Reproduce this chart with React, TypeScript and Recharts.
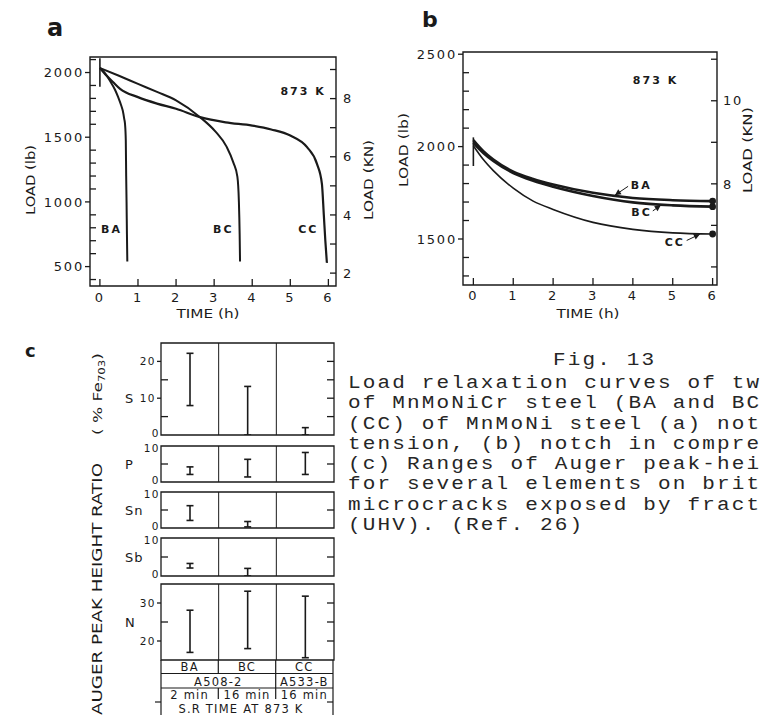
import React from 'react';
import {
  LineChart, Line, ComposedChart, Bar, XAxis, YAxis,
  ReferenceArea, ReferenceLine, ReferenceDot,
} from 'recharts';

const INK = '#1a1a1a';
const SANS = '"DejaVu Sans", sans-serif';
const LB_TO_KN = 0.0044482;

const hours = [0, 1, 2, 3, 4, 5, 6];

// (a) notch in tension – load (lb) vs time (h)
const tensionBA = [
  { t: 0, load: 2035 }, { t: 0.13, load: 1995 }, { t: 0.26, load: 1938 }, { t: 0.4, load: 1865 },
  { t: 0.48, load: 1809 }, { t: 0.56, load: 1745 }, { t: 0.6, load: 1706 }, { t: 0.64, load: 1640 },
  { t: 0.66, load: 1600 }, { t: 0.68, load: 1474 }, { t: 0.69, load: 1200 }, { t: 0.7, load: 1000 },
  { t: 0.71, load: 750 }, { t: 0.72, load: 540 },
];
const tensionBC = [
  { t: 0, load: 2035 }, { t: 0.5, load: 1975 }, { t: 1, load: 1912 }, { t: 1.5, load: 1850 },
  { t: 2, load: 1785 }, { t: 2.63, load: 1655 }, { t: 3.03, load: 1545 }, { t: 3.33, load: 1425 },
  { t: 3.51, load: 1300 }, { t: 3.61, load: 1195 }, { t: 3.65, load: 1000 }, { t: 3.67, load: 750 },
  { t: 3.68, load: 540 },
];
const tensionCC = [
  { t: 0, load: 2035 }, { t: 0.18, load: 1975 }, { t: 0.35, load: 1925 }, { t: 0.53, load: 1874 },
  { t: 1, load: 1810 }, { t: 1.5, load: 1760 }, { t: 2, load: 1720 }, { t: 2.63, load: 1655 },
  { t: 3.3, load: 1615 }, { t: 4, load: 1590 }, { t: 4.5, load: 1560 }, { t: 5, load: 1513 },
  { t: 5.44, load: 1423 }, { t: 5.7, load: 1294 }, { t: 5.83, load: 1140 }, { t: 5.88, load: 900 },
  { t: 5.92, load: 700 }, { t: 5.96, load: 530 },
];
const tensionLoading = [{ t: 0, load: 2110 }, { t: 0, load: 1890 }];
const tensionLbTicks = [400, 500, 600, 700, 800, 900, 1000, 1100, 1200, 1300, 1400, 1500, 1600, 1700, 1800, 1900, 2000, 2100];
const tensionLbLabels = [500, 1000, 1500, 2000];
const tensionKnTicks = [2, 3, 4, 5, 6, 7, 8, 9];
const tensionKnLabels = [2, 4, 6, 8];

// (b) notch in compression
const compBA = [
  { t: 0, load: 2035 }, { t: 0.25, load: 1975 }, { t: 0.5, load: 1930 }, { t: 1, load: 1865 },
  { t: 1.5, load: 1825 }, { t: 2, load: 1795 }, { t: 3, load: 1750 }, { t: 4, load: 1722 },
  { t: 5, load: 1710 }, { t: 6, load: 1705 },
];
const compBC = [
  { t: 0, load: 2020 }, { t: 0.25, load: 1965 }, { t: 0.5, load: 1922 }, { t: 1, load: 1857 },
  { t: 1.5, load: 1815 }, { t: 2, load: 1783 }, { t: 3, load: 1733 }, { t: 4, load: 1698 },
  { t: 5, load: 1682 }, { t: 6, load: 1675 },
];
const compCC = [
  { t: 0, load: 2005 }, { t: 0.25, load: 1930 }, { t: 0.5, load: 1870 }, { t: 1, load: 1775 },
  { t: 1.5, load: 1705 }, { t: 2, load: 1660 }, { t: 3, load: 1590 }, { t: 4, load: 1552 },
  { t: 5, load: 1533 }, { t: 6, load: 1527 },
];
const compLoading = [{ t: 0, load: 2050 }, { t: 0, load: 1895 }];
const compLbTicks = [1300, 1400, 1500, 1600, 1700, 1800, 1900, 2000, 2100, 2200, 2300, 2400, 2500];
const compLbLabels = [1500, 2000, 2500];
const compKnTicks = [6, 7, 8, 9, 10, 11];
const compKnLabels = [8, 10];

// (c) Auger peak-height ratio ranges (% Fe703)
const specimens = ['BA', 'BC', 'CC'];
const steels = ['A508-2', 'A533-B'];
const srTimes = ['2 min', '16 min', '16 min'];
const sRanges = [[8, 22.2], [0, 13.2], [0, 2]];
const pRanges = [[2.1, 4.2], [1.4, 6.3], [2.1, 8.2]];
const snRanges = [[2.1, 6.2], [0.3, 1.8], null];
const sbRanges = [[2.1, 3.3], [0, 2], null];
const nRanges = [[17, 28.1], [18, 33.1], [15.6, 31.8]];

const captionTitle = 'Fig. 13';
const captionLines = [
  'Load relaxation curves of tw',
  'of MnMoNiCr steel (BA and BC',
  '(CC) of MnMoNi steel (a) not',
  'tension, (b) notch in compre',
  '(c) Ranges of Auger peak-hei',
  'for several elements on brit',
  'microcracks exposed by fract',
  '(UHV). (Ref. 26)',
];

// axis windows
const TENSION_T = [-0.26, 6.2];
const TENSION_LB = [350, 2120];
const COMP_T = [-0.26, 6.11];
const COMP_LB = [1251, 2512];

const tickFont: React.CSSProperties = { fontFamily: SANS, fontSize: 13, letterSpacing: 1.8, fill: INK };
const smallFont: React.CSSProperties = { fontFamily: SANS, fontSize: 10.5, letterSpacing: 1.5, fill: INK };
const noteFont: React.CSSProperties = { fontFamily: SANS, fontSize: 11, fontWeight: 700, letterSpacing: 2, fill: INK };

const leftTick = (
  labelled: number[], outward: number[], inward: number[], len = 6, font = tickFont, gap = 2, inLen = 6,
  edges: number[] = [],
) => (p: any) => {
  const { x, y } = p;
  const v = p.payload.value;
  const out = outward.includes(v);
  // keep the stacked "0" / "10" labels of neighbouring strips apart
  const nudge = edges.length ? (v === edges[0] ? -2 : v === edges[1] ? 2 : 0) : 0;
  return (
    <g>
      {out && <line x1={x - len} x2={x} y1={y} y2={y} stroke={INK} strokeWidth={1.3} />}
      {inward.includes(v) && <line x1={x} x2={x + inLen} y1={y} y2={y} stroke={INK} strokeWidth={1.3} />}
      {labelled.includes(v) && (
        <text x={x - (out ? len : 0) - gap} y={y + nudge} dy="0.36em" textAnchor="end" style={font}>{v}</text>
      )}
    </g>
  );
};

const rightTick = (labelled: number[], len = 6, gap = 6) => (p: any) => {
  const { x, y } = p;
  const v = p.payload.value;
  return (
    <g>
      <line x1={x - len} x2={x} y1={y} y2={y} stroke={INK} strokeWidth={1.3} />
      {labelled.includes(v) && <text x={x + gap} y={y} dy="0.36em" style={tickFont}>{v}</text>}
    </g>
  );
};

const bottomTick = (dy: number) => (p: any) => (
  <g>
    <line x1={p.x} x2={p.x} y1={p.y} y2={p.y - 7} stroke={INK} strokeWidth={1.3} />
    <text x={p.x} y={p.y + dy} textAnchor="middle" style={tickFont}>{p.payload.value}</text>
  </g>
);

const topTick = (p: any) => (
  <line x1={p.x} x2={p.x} y1={p.y} y2={p.y + 7} stroke={INK} strokeWidth={1.3} />
);

const note = (text: string) => (p: any) => <text x={p.cx} y={p.cy} style={noteFont}>{text}</text>;

const arrow = (p: any) => {
  const { x1, y1, x2, y2 } = p;
  const a = Math.atan2(y2 - y1, x2 - x1);
  const bx = x2 - 6 * Math.cos(a);
  const by = y2 - 6 * Math.sin(a);
  const pts = `${x2},${y2} ${bx - 3 * Math.sin(a)},${by + 3 * Math.cos(a)} ${bx + 3 * Math.sin(a)},${by - 3 * Math.cos(a)}`;
  return (
    <g>
      <line x1={x1} y1={y1} x2={x2} y2={y2} stroke={INK} strokeWidth={1} />
      <polygon points={pts} fill={INK} />
    </g>
  );
};

const endDot = (p: any) =>
  p.payload && p.payload.t === 6
    ? <circle key={`e${p.index}`} cx={p.cx} cy={p.cy} r={3.4} fill={INK} />
    : <g key={`e${p.index}`} />;

const axisBase = { tickSize: 0, tickMargin: 0, tickLine: false, axisLine: false, interval: 0 as const, allowDataOverflow: true };

function TensionChart() {
  const lb = TENSION_LB;
  const t = TENSION_T;
  return (
    <div style={{ position: 'absolute', left: 0, top: 0 }}>
      <LineChart width={400} height={330} margin={{ top: 52, right: 24, bottom: 19, left: 50 }}>
        <XAxis type="number" dataKey="t" domain={t} ticks={hours} height={25} tick={bottomTick(16)} {...axisBase} />
        <XAxis xAxisId="top" orientation="top" type="number" domain={t} ticks={hours} height={5} tick={topTick} {...axisBase} />
        <YAxis type="number" domain={lb} ticks={tensionLbTicks} width={40}
          tick={leftTick(tensionLbLabels, tensionLbLabels, tensionLbTicks.filter((v) => !tensionLbLabels.includes(v)), 5, tickFont, 1)} {...axisBase} />
        <YAxis yAxisId="kN" orientation="right" type="number" domain={lb.map((v) => v * LB_TO_KN)} ticks={tensionKnTicks}
          width={40} tick={rightTick(tensionKnLabels, 6, 7)} {...axisBase} />
        <ReferenceArea x1={t[0]} x2={t[1]} y1={lb[0]} y2={lb[1]} fill="none" fillOpacity={0} stroke={INK} strokeWidth={1.4} />
        <Line data={tensionLoading} dataKey="load" type="linear" stroke={INK} strokeWidth={1.6} dot={false} activeDot={false} isAnimationActive={false} />
        <Line data={tensionBA} dataKey="load" type="monotone" stroke={INK} strokeWidth={2} dot={false} activeDot={false} isAnimationActive={false} />
        <Line data={tensionBC} dataKey="load" type="monotone" stroke={INK} strokeWidth={2} dot={false} activeDot={false} isAnimationActive={false} />
        <Line data={tensionCC} dataKey="load" type="monotone" stroke={INK} strokeWidth={2.2} dot={false} activeDot={false} isAnimationActive={false} />
        <ReferenceDot x={4.74} y={1830} shape={note('873 K')} />
        <ReferenceDot x={0.03} y={763} shape={note('BA')} />
        <ReferenceDot x={2.97} y={763} shape={note('BC')} />
        <ReferenceDot x={5.21} y={763} shape={note('CC')} />
      </LineChart>
    </div>
  );
}

function CompressionChart() {
  const lb = COMP_LB;
  const t = COMP_T;
  return (
    <div style={{ position: 'absolute', left: 380, top: 0 }}>
      <LineChart width={383} height={330} margin={{ top: 47, right: 16, bottom: 20, left: 43 }}>
        <XAxis type="number" dataKey="t" domain={t} ticks={hours} height={25} tick={bottomTick(15)} {...axisBase} />
        <XAxis xAxisId="top" orientation="top" type="number" domain={t} ticks={hours} height={5} tick={topTick} {...axisBase} />
        <YAxis type="number" domain={lb} ticks={compLbTicks} width={40}
          tick={leftTick(compLbLabels, compLbLabels, compLbTicks.filter((v) => !compLbLabels.includes(v)), 5, tickFont, 1)} {...axisBase} />
        <YAxis yAxisId="kN" orientation="right" type="number" domain={lb.map((v) => v * LB_TO_KN)} ticks={compKnTicks}
          width={30} tick={rightTick(compKnLabels, 6, 6)} {...axisBase} />
        <ReferenceArea x1={t[0]} x2={t[1]} y1={lb[0]} y2={lb[1]} fill="none" fillOpacity={0} stroke={INK} strokeWidth={1.4} />
        <Line data={compLoading} dataKey="load" type="linear" stroke={INK} strokeWidth={1.6} dot={false} activeDot={false} isAnimationActive={false} />
        <Line data={compCC} dataKey="load" type="monotone" stroke={INK} strokeWidth={1.6} dot={endDot} activeDot={false} isAnimationActive={false} />
        <Line data={compBC} dataKey="load" type="monotone" stroke={INK} strokeWidth={2.6} dot={endDot} activeDot={false} isAnimationActive={false} />
        <Line data={compBA} dataKey="load" type="monotone" stroke={INK} strokeWidth={2.6} dot={endDot} activeDot={false} isAnimationActive={false} />
        <ReferenceDot x={4.0} y={2340} shape={note('873 K')} />
        <ReferenceDot x={3.95} y={1771} shape={note('BA')} />
        <ReferenceLine segment={[{ x: 3.88, y: 1785 }, { x: 3.55, y: 1737 }]} shape={arrow} />
        <ReferenceDot x={3.96} y={1627} shape={note('BC')} />
        <ReferenceLine segment={[{ x: 4.5, y: 1652 }, { x: 4.7, y: 1682 }]} shape={arrow} />
        <ReferenceDot x={4.8} y={1461} shape={note('CC')} />
        <ReferenceLine segment={[{ x: 5.35, y: 1492 }, { x: 5.68, y: 1526 }]} shape={arrow} />
      </LineChart>
    </div>
  );
}

const RangeBar = (p: any) => {
  const { x, y, width, height } = p;
  if (height == null || isNaN(y)) return <g />;
  const cx = x + width / 2;
  const top = Math.min(y, y + height);
  const bot = Math.max(y, y + height);
  return (
    <g stroke={INK} strokeWidth={1.6}>
      <line x1={cx} x2={cx} y1={top} y2={bot} />
      <line x1={cx - 3.5} x2={cx + 3.5} y1={top} y2={top} />
      <line x1={cx - 3.5} x2={cx + 3.5} y1={bot} y2={bot} />
    </g>
  );
};

function RangePanel(props: {
  name: string; ranges: (number[] | null)[]; domain: number[]; ticks: number[];
  labelled: number[]; outward: number[]; inward: number[]; right: number[];
  top: number; bottom: number; nameDy?: number;
}) {
  const { name, ranges, domain, ticks, labelled, outward, inward, right, top, bottom, nameDy = 0 } = props;
  const data = specimens
    .map((s, i) => ({ specimen: s, slot: i + 0.5, range: ranges[i] }))
    .filter((d) => d.range);
  return (
    <div style={{ position: 'absolute', left: 100, top: top - 8 }}>
      <ComposedChart width={250} height={bottom - top + 16} data={data} margin={{ top: 8, bottom: 8, left: 21, right: 6 }}>
        <XAxis type="number" dataKey="slot" domain={[0, 3]} hide allowDataOverflow />
        <YAxis type="number" domain={domain} ticks={ticks} width={40}
          tick={leftTick(labelled, outward, inward, 4, smallFont, 1, 7, domain)}
          label={{ value: name, position: 'insideLeft', offset: 4, dy: nameDy, style: { fontFamily: SANS, fontSize: 13, fill: INK, letterSpacing: 1 } }}
          {...axisBase} />
        <YAxis yAxisId="r" orientation="right" type="number" domain={domain} ticks={right} width={10}
          tick={rightTick([], 7)} {...axisBase} />
        <ReferenceArea x1={0} x2={3} y1={domain[0]} y2={domain[1]} fill="none" fillOpacity={0} stroke={INK} strokeWidth={1.3} />
        <ReferenceLine x={1} stroke={INK} strokeWidth={1} />
        <ReferenceLine x={2} stroke={INK} strokeWidth={1} />
        <Bar dataKey="range" barSize={8} shape={RangeBar} isAnimationActive={false} />
      </ComposedChart>
    </div>
  );
}

const Title = ({ x, y, len, rotate, size = 13, children }: any) => (
  <text x={x} y={y} textLength={len} lengthAdjust="spacingAndGlyphs" textAnchor="middle" dominantBaseline="central"
    transform={rotate ? `rotate(-90 ${x} ${y})` : undefined}
    style={{ fontFamily: SANS, fontSize: size, fill: INK }}>{children}</text>
);

function Overlay() {
  const cols = [161, 218.3, 275.7, 333];
  const mid = (i: number) => (cols[i] + cols[i + 1]) / 2;
  const cell: React.CSSProperties = { fontFamily: SANS, fontSize: 11.5, letterSpacing: 1.2, fill: INK };
  return (
    <svg width={763} height={715} style={{ position: 'absolute', left: 0, top: 0, pointerEvents: 'none' }}>
      <text x={47} y={36} style={{ fontFamily: SANS, fontSize: 24, fontWeight: 700, fill: INK }}>a</text>
      <text x={422} y={27} style={{ fontFamily: SANS, fontSize: 22, fontWeight: 700, fill: INK }}>b</text>
      <text x={25} y={357} style={{ fontFamily: SANS, fontSize: 18, fontWeight: 700, fill: INK }}>c</text>

      <Title x={30} y={180} len={70} rotate>LOAD (lb)</Title>
      <Title x={368} y={180} len={80} rotate>LOAD (KN)</Title>
      <Title x={208} y={313} len={63}>TIME (h)</Title>
      <Title x={403} y={150} len={74} rotate>LOAD (lb)</Title>
      <Title x={747} y={150} len={86} rotate>LOAD (KN)</Title>
      <Title x={588} y={313} len={63}>TIME (h)</Title>
      <Title x={97} y={589} len={252} size={14} rotate>AUGER PEAK HEIGHT RATIO</Title>
      <text x={97} y={394} textLength={82} lengthAdjust="spacingAndGlyphs" textAnchor="middle" dominantBaseline="central"
        transform="rotate(-90 97 394)" style={{ fontFamily: SANS, fontSize: 13, fill: INK }}>
        ( % Fe<tspan dy={5} fontSize={9}>703</tspan><tspan dy={-5}>)</tspan>
      </text>

      <g stroke={INK} strokeWidth={1.2}>
        <line x1={cols[0]} x2={cols[0]} y1={660} y2={715} />
        <line x1={cols[3]} x2={cols[3]} y1={660} y2={715} />
        <line x1={cols[0]} x2={cols[3]} y1={673.5} y2={673.5} />
        <line x1={cols[0]} x2={cols[3]} y1={688} y2={688} />
        <line x1={cols[1]} x2={cols[1]} y1={660} y2={673.5} />
        <line x1={cols[2]} x2={cols[2]} y1={660} y2={688} />
        <line x1={cols[1]} x2={cols[1]} y1={688} y2={699} />
        <line x1={cols[2]} x2={cols[2]} y1={688} y2={699} />
        <line x1={cols[0] - 6} x2={cols[0]} y1={702} y2={702} />
        <line x1={cols[3] - 6} x2={cols[3]} y1={702} y2={702} />
      </g>
      {specimens.map((s, i) => (
        <text key={s} x={mid(i)} y={671} textAnchor="middle" style={cell}>{s}</text>
      ))}
      <text x={(cols[0] + cols[2]) / 2} y={685.5} textAnchor="middle" style={cell}>{steels[0]}</text>
      <text x={mid(2)} y={685.5} textAnchor="middle" style={cell}>{steels[1]}</text>
      {srTimes.map((s, i) => (
        <text key={i} x={mid(i)} y={698.5} textAnchor="middle" style={cell}>{s}</text>
      ))}
      <text x={241} y={713} textAnchor="middle" style={cell}>S.R TIME AT 873 K</text>
    </svg>
  );
}

function Caption() {
  const mono: React.CSSProperties = {
    position: 'absolute', fontFamily: '"Liberation Mono", monospace', fontSize: 17.5, lineHeight: '20.3px',
    letterSpacing: 1.8, whiteSpace: 'pre', color: '#262626', transform: 'scaleX(1.2)', transformOrigin: '0 0',
  };
  return (
    <>
      <div style={{ ...mono, left: 553, top: 350 }}>{captionTitle}</div>
      <div style={{ ...mono, left: 348, top: 373 }}>
        {captionLines.map((l, i) => <div key={i}>{l}</div>)}
      </div>
    </>
  );
}

export default function App() {
  return (
    <div style={{ position: 'absolute', left: 0, top: 0, width: 763, height: 715, overflow: 'hidden', background: '#fff' }}>
      <TensionChart />
      <CompressionChart />
      <RangePanel name="S" ranges={sRanges} domain={[0, 25]} ticks={[0, 5, 10, 15, 20]} labelled={[0, 10, 20]}
        outward={[10, 20]} inward={[5, 15]} right={[5, 10, 15, 20]} top={343} bottom={435} nameDy={9} />
      <RangePanel name="P" ranges={pRanges} domain={[0, 10]} ticks={[0, 5, 10]} labelled={[0, 10]}
        outward={[]} inward={[5]} right={[5]} top={446} bottom={482} />
      <RangePanel name="Sn" ranges={snRanges} domain={[0, 10]} ticks={[0, 5, 10]} labelled={[0, 10]}
        outward={[]} inward={[5]} right={[5]} top={492} bottom={528} />
      <RangePanel name="Sb" ranges={sbRanges} domain={[0, 10]} ticks={[0, 5, 10]} labelled={[0, 10]}
        outward={[]} inward={[5]} right={[5]} top={538} bottom={576} />
      <RangePanel name="N" ranges={nRanges} domain={[15, 35]} ticks={[20, 25, 30]} labelled={[20, 30]}
        outward={[20, 30]} inward={[25]} right={[20, 25, 30]} top={584} bottom={660} />
      <Overlay />
      <Caption />
    </div>
  );
}
